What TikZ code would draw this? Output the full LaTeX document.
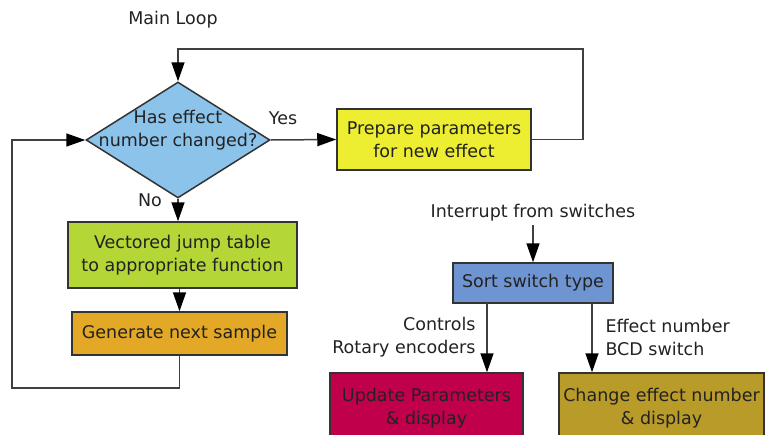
\documentclass[tikz,border=0pt]{standalone}
\usepackage{fontspec}
\setmainfont{DejaVu Sans}
\usetikzlibrary{shapes.geometric,arrows.meta}
\definecolor{diamondblue}{HTML}{8CC3EB}
\definecolor{prepyellow}{HTML}{EDED32}
\definecolor{jumpgreen}{HTML}{B4D636}
\definecolor{genorange}{HTML}{E3A825}
\definecolor{sortblue}{HTML}{6F94D2}
\definecolor{updred}{HTML}{C1004C}
\definecolor{chgolive}{HTML}{B99B2A}
\definecolor{inkgray}{HTML}{222222}
\begin{document}
\begin{tikzpicture}[x=1pt, y=-1pt,
    every node/.style={font=\fontsize{17.5}{23}\selectfont, text=inkgray},
    procbox/.style={draw=black!80, line width=1.5pt, align=center, inner sep=0pt},
    decision/.style={diamond, draw=black!80, line width=1.5pt, fill=diamondblue, inner sep=0pt,
                     minimum width=184pt, minimum height=116pt},
    flow/.style={draw=black!75, line width=1.5pt, -{Triangle[length=19pt,width=13pt,black]}}]
    \useasboundingbox (0,0) rectangle (773,434);
    \clip (0,0) rectangle (773,434);

    % main loop
    \node (mainloop) at (173,20) {Main Loop};
    \node[decision, label={[align=center, yshift=10pt]center:Has effect\\number changed?}] (diamond) at (178,140) {};
    \node[procbox, fill=prepyellow, minimum width=194pt, minimum height=61pt] (prepare) at (434,139.5) {Prepare parameters\\for new effect};
    \node[procbox, fill=jumpgreen, minimum width=229pt, minimum height=66pt] (jump) at (182.5,255) {Vectored jump table\\to appropriate function};
    \node[procbox, fill=genorange, minimum width=215pt, minimum height=43pt] (generate) at (179.5,333.5) {Generate next sample};
    \coordinate (topright) at (583,49);
    \coordinate (botleft) at (12,388);

    % labels of the decision
    \node (yes) at (283,118) {Yes};
    \node (no) at (150,200) {No};

    % connectors of the loop
    \draw[flow] (diamond.east) -- (prepare.west);
    \draw[flow] (prepare.east) -| (topright) -| (diamond.north);
    \draw[flow] (diamond.south) -- (diamond.south |- jump.north);
    \draw[flow] (jump.south -| generate.north) -- (generate.north);
    \draw[flow] (generate.south) |- (botleft) |- (diamond.west);

    % interrupt handler
    \node (interrupt) at (533,213) {Interrupt from switches};
    \node[procbox, fill=sortblue, minimum width=160pt, minimum height=40pt] (sort) at (533,283) {Sort switch type};
    \node[procbox, fill=updred, minimum width=193pt, minimum height=70pt] (update) at (426.5,408) {Update Parameters\\\& display};
    \node[procbox, fill=chgolive, minimum width=205pt, minimum height=70pt] (change) at (661.5,408) {Change effect number\\\& display};
    \coordinate (sortleft) at (487,303);
    \coordinate (sortright) at (592,303);
    \node[anchor=east, align=right] (controls) at (479,337) {Controls\\Rotary encoders};
    \node[anchor=west, align=left] (effectnum) at (602,337) {Effect number\\BCD switch};

    \draw[flow] (interrupt.south -| sort.north) -- (sort.north);
    \draw[flow] (sortleft) -- (sortleft |- update.north);
    \draw[flow] (sortright) -- (sortright |- change.north);
\end{tikzpicture}
\end{document}
